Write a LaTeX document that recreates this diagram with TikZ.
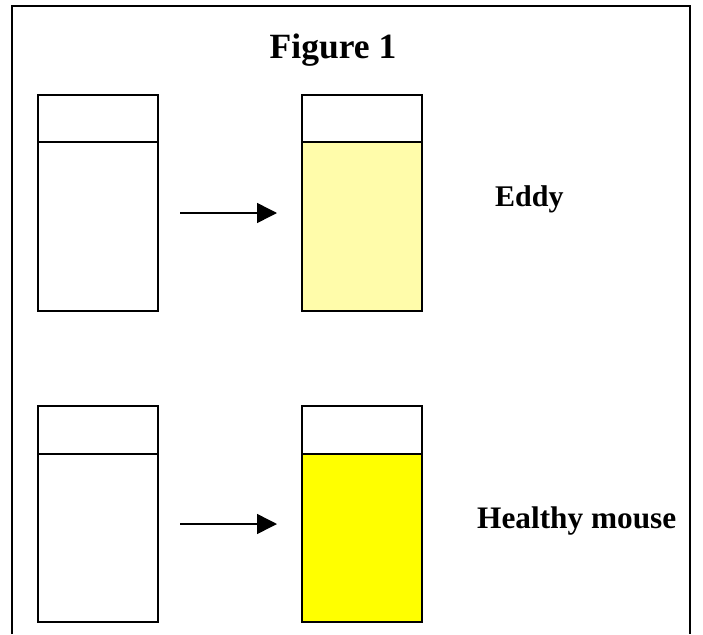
\documentclass[tikz,border=0pt]{standalone}
\usepackage{fontspec}
\setmainfont{Liberation Serif}
\usetikzlibrary{arrows.meta}
\definecolor{paleyel}{RGB}{255,252,170}
\definecolor{brightyel}{RGB}{255,255,0}
\begin{document}
\begin{tikzpicture}[x=1pt,y=-1pt,
  tube/.style={draw=black,line width=1.8pt,minimum width=120pt,inner sep=0pt,anchor=north west},
  lbl/.style={font=\bfseries\fontsize{30}{34}\selectfont,anchor=base west,inner sep=0pt},
  arr/.style={line width=1.5pt,-{Triangle[length=20pt,width=20pt]}}]
\useasboundingbox (0,0) rectangle (703,634);
% frame (open at bottom)
\draw[line width=2pt] (12,634) -- (12,6) -- (690,6) -- (690,634);
\node[font=\bfseries\fontsize{35.5}{40}\selectfont,anchor=base,inner sep=0pt] (title) at (333,59) {Figure 1};
% top row
\node[tube,minimum height=47pt] (a1) at (37,94) {};
\node[tube,minimum height=169pt] (a2) at (37,141) {};
\node[tube,minimum height=47pt] (b1) at (301,94) {};
\node[tube,fill=paleyel,minimum height=169pt] (b2) at (301,141) {};
\coordinate (s1) at (180,213);
\coordinate (e1) at (277,213);
\draw[arr] (s1) -- (e1);
\node[lbl] (eddy) at (495,206) {Eddy};
% bottom row
\node[tube,minimum height=48pt] (c1) at (37,405) {};
\node[tube,minimum height=168pt] (c2) at (37,453) {};
\node[tube,minimum height=48pt] (d1) at (301,405) {};
\node[tube,fill=brightyel,minimum height=168pt] (d2) at (301,453) {};
\coordinate (s2) at (180,524);
\coordinate (e2) at (277,524);
\draw[arr] (s2) -- (e2);
\node[lbl,font=\bfseries\fontsize{31.3}{35}\selectfont] (healthy) at (477,528) {Healthy mouse};
\end{tikzpicture}
\end{document}
